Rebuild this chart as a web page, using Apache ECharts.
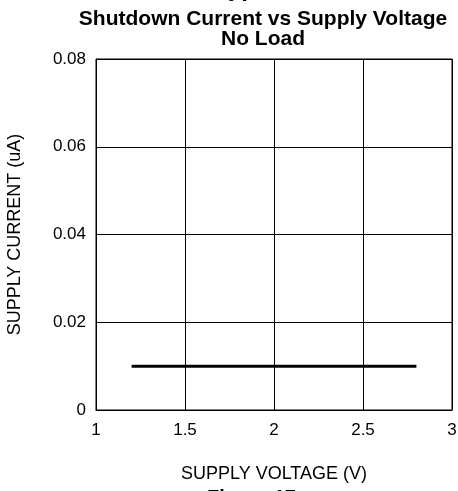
<!DOCTYPE html>
<html><head><meta charset="utf-8">
<script src="https://cdn.jsdelivr.net/npm/echarts@6/dist/echarts.min.js"></script>
<style>html,body{margin:0;padding:0;background:#fff;}#c{width:458px;height:491px;}</style>
</head><body><div id="c"></div>
<script>
const voltage = [1.2, 2.8];
const current = [0.01, 0.01];
const xTicks = [1, 1.5, 2, 2.5, 3];
const yTicks = [0, 0.02, 0.04, 0.06, 0.08];

const chart = echarts.init(document.getElementById('c'), null, {renderer: 'canvas'});
const font = 'Liberation Sans, Arial, sans-serif';
chart.setOption({
  animation: false,
  backgroundColor: '#fff',
  grid: {left: 96, right: 6, top: 59, bottom: 81, show: true, borderColor: '#000', borderWidth: 1,
         containLabel: false, outerBoundsMode: 'none'},
  title: [
    {text: 'Shutdown Current vs Supply Voltage\nNo Load', left: 258, top: 4, textAlign: 'center',
     textStyle: {fontFamily: font, fontSize: 21, fontWeight: 'bold', color: '#000', lineHeight: 20}}
  ],
  graphic: [
    {type: 'text', left: 215, top: -23, style: {text: 'Typical Performance Characteristics', font: 'bold 24px ' + font, fill: '#000'}},
    {type: 'text', left: 207, top: 488, style: {text: 'Figure 17.', font: 'bold 20px ' + font, fill: '#000'}}
  ],
  xAxis: {
    type: 'value', min: xTicks[0], max: xTicks[xTicks.length - 1], interval: 0.5,
    name: 'SUPPLY VOLTAGE (V)', nameLocation: 'middle', nameGap: 55,
    nameTextStyle: {fontFamily: font, fontSize: 18, color: '#000'},
    axisLine: {show: true, lineStyle: {color: '#000', width: 1}},
    axisTick: {show: false},
    axisLabel: {fontFamily: font, fontSize: 17, color: '#000', margin: 12},
    splitLine: {show: true, lineStyle: {color: '#000', width: 1}}
  },
  yAxis: {
    type: 'value', min: yTicks[0], max: yTicks[yTicks.length - 1], interval: 0.02,
    name: 'SUPPLY CURRENT (uA)', nameLocation: 'middle', nameGap: 72, nameRotate: 90,
    nameTextStyle: {fontFamily: font, fontSize: 18, color: '#000'},
    axisLine: {show: true, lineStyle: {color: '#000', width: 1}},
    axisTick: {show: false},
    axisLabel: {fontFamily: font, fontSize: 17, color: '#000', margin: 10,
      formatter: v => v === 0 ? '0' : v.toFixed(2)},
    splitLine: {show: true, lineStyle: {color: '#000', width: 1}}
  },
  series: [{
    type: 'line', data: voltage.map((v, i) => [v, current[i]]),
    showSymbol: false, lineStyle: {color: '#000', width: 3}
  }]
});
</script></body></html>
